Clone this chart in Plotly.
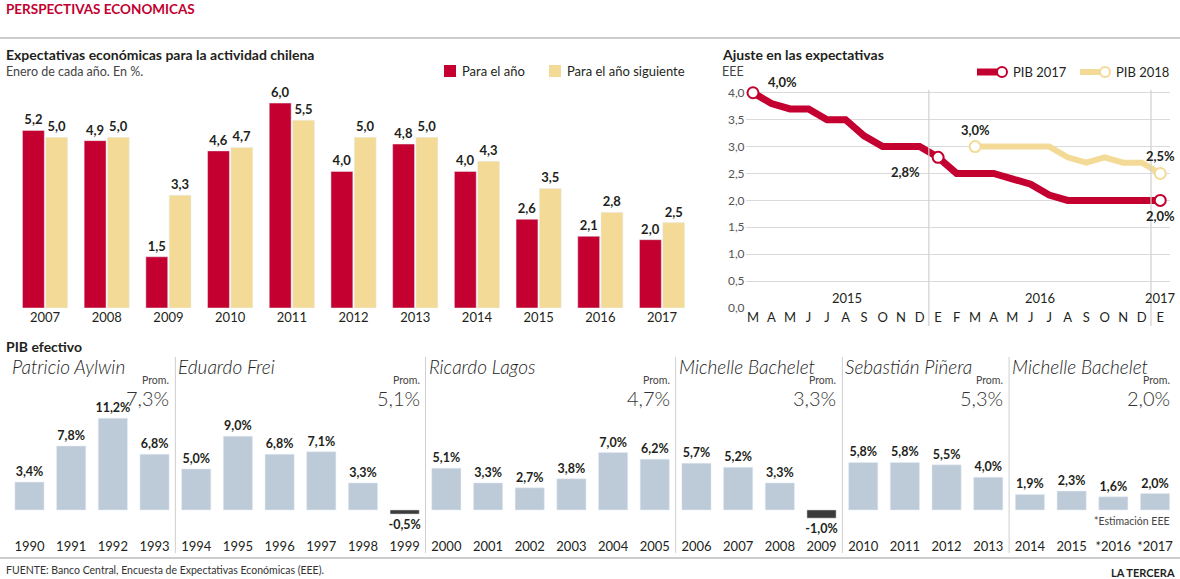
import plotly.graph_objects as go

# ---------------- DATA ----------------
exp_years = ["2007", "2008", "2009", "2010", "2011", "2012", "2013", "2014", "2015", "2016", "2017"]
para_el_ano = [5.2, 4.9, 1.5, 4.6, 6.0, 4.0, 4.8, 4.0, 2.6, 2.1, 2.0]
para_el_ano_sig = [5.0, 5.0, 3.3, 4.7, 5.5, 5.0, 5.0, 4.3, 3.5, 2.8, 2.5]

months = ["M", "A", "M", "J", "J", "A", "S", "O", "N", "D", "E",
          "F", "M", "A", "M", "J", "J", "A", "S", "O", "N", "D", "E"]
pib2017 = [4.0, 3.8, 3.7, 3.7, 3.5, 3.5, 3.2, 3.0, 3.0, 3.0, 2.8,
           2.5, 2.5, 2.5, 2.4, 2.3, 2.1, 2.0, 2.0, 2.0, 2.0, 2.0, 2.0]
pib2018_start = 12
pib2018 = [3.0, 3.0, 3.0, 3.0, 3.0, 2.8, 2.7, 2.8, 2.7, 2.7, 2.5]
line_years = ["2015", "2016", "2017"]
line_year_pos = [5.1, 15.5, 22]
line_yticks = [0.0, 0.5, 1.0, 1.5, 2.0, 2.5, 3.0, 3.5, 4.0]

pib_years = ["1990", "1991", "1992", "1993", "1994", "1995", "1996", "1997", "1998", "1999",
             "2000", "2001", "2002", "2003", "2004", "2005", "2006", "2007", "2008", "2009",
             "2010", "2011", "2012", "2013", "2014", "2015", "*2016", "*2017"]
pib_values = [3.4, 7.8, 11.2, 6.8, 5.0, 9.0, 6.8, 7.1, 3.3, -0.5,
              5.1, 3.3, 2.7, 3.8, 7.0, 6.2, 5.7, 5.2, 3.3, -1.0,
              5.8, 5.8, 5.5, 4.0, 1.9, 2.3, 1.6, 2.0]
presidents = ["Patricio Aylwin", "Eduardo Frei", "Ricardo Lagos", "Michelle Bachelet",
              "Sebastián Piñera", "Michelle Bachelet"]
term_start_idx = [0, 4, 10, 16, 20, 24]
term_end_idx = [3, 9, 15, 19, 23, 27]
promedios = [7.3, 5.1, 4.7, 3.3, 5.3, 2.0]

# ---------------- STYLE ----------------
W, H = 1180, 579
RED = "#c3002f"
YEL = "#f3db97"
GREY_BAR = "#bdcad7"
NEG_BAR = "#3b3b3b"
TXT = "#231f20"
FONT = "Lato"


def px(p):
    return p / W


def py(p):
    return 1 - p / H


def fmt(v, dec=1, pct=False):
    s = f"{v:.{dec}f}".replace(".", ",")
    return s + ("%" if pct else "")


fig = go.Figure()

# ---- top-left grouped bars
fig.add_trace(go.Bar(
    x=exp_years, y=para_el_ano, name="Para el año", marker_color=RED,
    text=[fmt(v) for v in para_el_ano], textposition="outside", constraintext="none",
    textfont=dict(family=FONT, size=13, color=TXT, weight="bold"),
    cliponaxis=False, xaxis="x", yaxis="y", showlegend=False, hoverinfo="skip"))
fig.add_trace(go.Bar(
    x=exp_years, y=para_el_ano_sig, name="Para el año siguiente", marker_color=YEL,
    text=[fmt(v) for v in para_el_ano_sig], textposition="outside", constraintext="none",
    textfont=dict(family=FONT, size=13, color=TXT, weight="bold"),
    cliponaxis=False, xaxis="x", yaxis="y", showlegend=False, hoverinfo="skip"))

# ---- top-right lines
idx17 = list(range(len(pib2017)))
idx18 = list(range(pib2018_start, pib2018_start + len(pib2018)))
fig.add_trace(go.Scatter(
    x=idx18, y=pib2018, mode="lines", line=dict(color=YEL, width=6),
    xaxis="x2", yaxis="y2", showlegend=False, cliponaxis=False))
fig.add_trace(go.Scatter(
    x=idx17, y=pib2017, mode="lines", line=dict(color=RED, width=7),
    xaxis="x2", yaxis="y2", showlegend=False, cliponaxis=False))
m18 = [0, len(pib2018) - 1]
fig.add_trace(go.Scatter(
    x=[idx18[i] for i in m18], y=[pib2018[i] for i in m18], mode="markers",
    marker=dict(size=11, color="white", line=dict(color=YEL, width=2)),
    xaxis="x2", yaxis="y2", showlegend=False, cliponaxis=False))
m17 = [0, 10, len(pib2017) - 1]
fig.add_trace(go.Scatter(
    x=[idx17[i] for i in m17], y=[pib2017[i] for i in m17], mode="markers",
    marker=dict(size=11, color="white", line=dict(color=RED, width=2)),
    xaxis="x2", yaxis="y2", showlegend=False, cliponaxis=False))

# ---- bottom bars
fig.add_trace(go.Bar(
    x=pib_years, y=pib_values, width=0.7,
    marker_color=[GREY_BAR if v >= 0 else NEG_BAR for v in pib_values],
    text=[fmt(v, pct=True) for v in pib_values], textposition="outside", constraintext="none",
    textfont=dict(family=FONT, size=12.5, color=TXT, weight="bold"),
    cliponaxis=False, xaxis="x3", yaxis="y3", showlegend=False, hoverinfo="skip"))

# ---------------- AXES ----------------
fig.update_layout(
    width=W, height=H, margin=dict(l=0, r=0, t=0, b=0, autoexpand=False),
    paper_bgcolor="white", plot_bgcolor="white",
    font=dict(family=FONT, color=TXT),
    barmode="group", bargap=0.245, bargroupgap=0.06,
    xaxis=dict(domain=[px(14.2), px(692.9)], anchor="y", showgrid=False, zeroline=False,
               showline=False, ticks="", tickfont=dict(size=13, color=TXT), automargin=False),
    yaxis=dict(domain=[py(308), py(86)], anchor="x", range=[0, 6.5], visible=False,
               automargin=False),
    xaxis2=dict(domain=[px(745.6), px(1169.5)], anchor="y2", range=[-0.4, 22.5],
                tickmode="array", tickvals=list(range(len(months))), ticktext=months,
                showgrid=False, zeroline=False, showline=False, ticks="",
                tickfont=dict(size=13, color=TXT), automargin=False),
    yaxis2=dict(domain=[py(308), py(82)], anchor="x2", range=[0, 4.2],
                tickmode="array", tickvals=line_yticks, ticktext=[fmt(v) for v in line_yticks],
                showgrid=True, gridcolor="#dadada", gridwidth=1, zeroline=False,
                showline=False, ticks="", tickfont=dict(size=12, color="#555"), automargin=False),
    xaxis3=dict(domain=[px(8.65), px(1175.85)], anchor="y3", showgrid=False, zeroline=False,
                showline=False, ticks="", tickfont=dict(size=13, color=TXT), automargin=False),
    yaxis3=dict(domain=[py(537), py(411.6)], anchor="x3", range=[-3.3, 12], visible=False,
                automargin=False),
)

shapes = []
ann = []

# horizontal rules
shapes.append(dict(type="line", xref="paper", yref="paper", x0=0, x1=1, y0=py(38), y1=py(38),
                   line=dict(color="#9a9a9a", width=1)))
shapes.append(dict(type="line", xref="paper", yref="paper", x0=0, x1=1, y0=py(558), y1=py(558),
                   line=dict(color="#9a9a9a", width=1)))

# titles
ann.append(dict(text="<b>PERSPECTIVAS ECONOMICAS</b>", x=px(4), y=py(9), xref="paper", yref="paper",
                xanchor="left", yanchor="middle", showarrow=False,
                font=dict(size=13.5, color=RED, family=FONT)))
ann.append(dict(text="<b>Expectativas económicas para la actividad chilena</b>", x=px(4), y=py(54),
                xref="paper", yref="paper", xanchor="left", yanchor="middle", showarrow=False,
                font=dict(size=14, color=TXT)))
ann.append(dict(text="Enero de cada año. En %.", x=px(4), y=py(71), xref="paper", yref="paper",
                xanchor="left", yanchor="middle", showarrow=False, font=dict(size=12.5, color="#444")))
ann.append(dict(text="<b>Ajuste en las expectativas</b>", x=px(720), y=py(54), xref="paper", yref="paper",
                xanchor="left", yanchor="middle", showarrow=False, font=dict(size=14, color=TXT)))
ann.append(dict(text="EEE", x=px(720), y=py(71), xref="paper", yref="paper",
                xanchor="left", yanchor="middle", showarrow=False, font=dict(size=12.5, color="#444")))
ann.append(dict(text="<b>PIB efectivo</b>", x=px(4), y=py(346), xref="paper", yref="paper",
                xanchor="left", yanchor="middle", showarrow=False, font=dict(size=14, color=TXT)))
ann.append(dict(text="FUENTE: Banco Central, Encuesta de Expectativas Económicas (EEE).", x=px(4), y=py(570),
                xref="paper", yref="paper", xanchor="left", yanchor="middle", showarrow=False,
                font=dict(size=10.5, color="#333")))
ann.append(dict(text="<b>LA TERCERA</b>", x=px(1177), y=py(572), xref="paper", yref="paper",
                xanchor="right", yanchor="middle", showarrow=False, font=dict(size=11, color=TXT)))

# bar legend (top-left)
for (x0, label, col) in [(444, "Para el año", RED), (549, "Para el año siguiente", YEL)]:
    shapes.append(dict(type="rect", xref="paper", yref="paper", x0=px(x0), x1=px(x0 + 12),
                       y0=py(77), y1=py(65), fillcolor=col, line=dict(width=0)))
    ann.append(dict(text=label, x=px(x0 + 16), y=py(71), xref="paper", yref="paper",
                    xanchor="left", yanchor="middle", showarrow=False, font=dict(size=13, color=TXT)))

# line legend (top-right)
for (x0, label, col, w) in [(977, "PIB 2017", RED, 7), (1080, "PIB 2018", YEL, 6)]:
    shapes.append(dict(type="line", xref="paper", yref="paper", x0=px(x0), x1=px(x0 + 22),
                       y0=py(72), y1=py(72), line=dict(color=col, width=w)))
    shapes.append(dict(type="circle", xref="paper", yref="paper", x0=px(x0 + 20), x1=px(x0 + 30),
                       y0=py(77), y1=py(67), fillcolor="white", line=dict(color=col, width=2)))
    ann.append(dict(text=label, x=px(x0 + 34), y=py(72), xref="paper", yref="paper",
                    xanchor="left", yanchor="middle", showarrow=False, font=dict(size=13, color=TXT)))

# line chart: vertical year separators and year labels
for xv in [9.5, 21.5]:
    shapes.append(dict(type="line", xref="x2", yref="paper", x0=xv, x1=xv, y0=py(326), y1=py(90),
                       line=dict(color="#d0d0d0", width=1.2)))
for lbl, xv in zip(line_years, line_year_pos):
    ann.append(dict(text=lbl, x=xv, y=py(298), xref="x2", yref="paper", xanchor="center",
                    yanchor="middle", showarrow=False, font=dict(size=13, color=TXT)))

# line chart point labels
lab = dict(xref="x2", yref="y2", showarrow=False, font=dict(size=13, color=TXT, weight="bold"))
ann.append(dict(text=fmt(pib2017[0], pct=True), x=idx17[0], y=pib2017[0], xanchor="left",
                yanchor="middle", xshift=13, yshift=11, **lab))
ann.append(dict(text=fmt(pib2017[10], pct=True), x=idx17[10], y=pib2017[10], xanchor="right",
                yanchor="middle", xshift=-16, yshift=-15, **lab))
ann.append(dict(text=fmt(pib2018[0], pct=True), x=idx18[0], y=pib2018[0], xanchor="center",
                yanchor="middle", yshift=17, **lab))
ann.append(dict(text=fmt(pib2018[-1], pct=True), x=idx18[-1], y=pib2018[-1], xanchor="center",
                yanchor="middle", yshift=17, **lab))
ann.append(dict(text=fmt(pib2017[-1], pct=True), x=idx17[-1], y=pib2017[-1], xanchor="center",
                yanchor="middle", yshift=-16, **lab))

# bottom: separators, president names, averages
for s, e, name, avg in zip(term_start_idx, term_end_idx, presidents, promedios):
    if s > 0:
        shapes.append(dict(type="line", xref="x3", yref="paper", x0=s - 0.5, x1=s - 0.5,
                           y0=py(553), y1=py(357), line=dict(color="#cfcfcf", width=1)))
    ann.append(dict(text=name, x=s - 0.5, y=py(366), xref="x3", yref="paper", xanchor="left",
                    yanchor="middle", xshift=1, showarrow=False,
                    font=dict(size=19, color="#222", style="italic", weight=300)))
    ann.append(dict(text="Prom.", x=e + 0.5, y=py(380), xref="x3", yref="paper", xanchor="right",
                    yanchor="middle", xshift=-4, showarrow=False, font=dict(size=10.5, color="#444")))
    ann.append(dict(text=fmt(avg, pct=True), x=e + 0.5, y=py(398), xref="x3", yref="paper",
                    xanchor="right", yanchor="middle", xshift=-4, showarrow=False,
                    font=dict(size=20, color="#333", weight=300)))

ann.append(dict(text="*Estimación EEE", x=px(1172), y=py(521), xref="paper", yref="paper",
                xanchor="right", yanchor="middle", showarrow=False, font=dict(size=10.5, color="#444")))

fig.update_layout(shapes=shapes, annotations=ann, hovermode=False)
fig.write_html("out.html", config={"displayModeBar": False},
               post_script="document.body.style.margin='0';document.body.style.overflow='hidden';")
